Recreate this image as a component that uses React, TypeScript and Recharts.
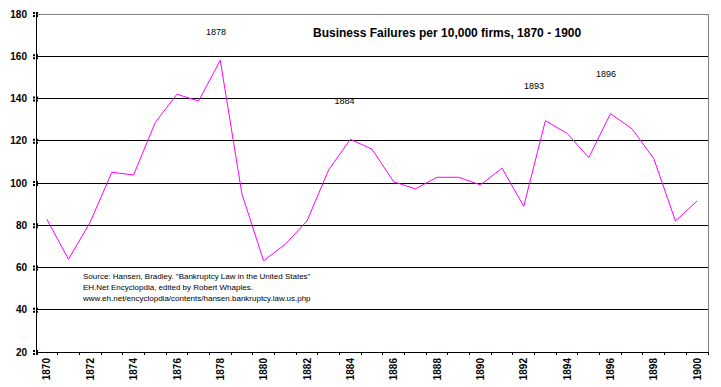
import React from 'react';
import { LineChart, Line, XAxis, YAxis, CartesianGrid, ReferenceLine } from 'recharts';

const years = [
  '1870', '1871', '1872', '1873', '1874', '1875', '1876', '1877', '1878', '1879',
  '1880', '1881', '1882', '1883', '1884', '1885', '1886', '1887', '1888', '1889',
  '1890', '1891', '1892', '1893', '1894', '1895', '1896', '1897', '1898', '1899', '1900',
];
const failures = [
  82.8, 63.9, 81.5, 105.1, 103.8, 128.6, 142.0, 138.8, 158.1, 94.8,
  63.2, 71.0, 82.0, 106.2, 120.7, 116.0, 100.6, 97.2, 102.7, 102.7,
  99.1, 107.0, 89.0, 129.5, 123.5, 112.0, 132.8, 125.6, 111.5, 82.0, 91.5,
];
const yTicks = [20, 40, 60, 80, 100, 120, 140, 160, 180];

const title = 'Business Failures per 10,000 firms, 1870 - 1900';
const annotations = [
  { text: '1878', x: 216, y: 35 },
  { text: '1884', x: 344.5, y: 104 },
  { text: '1893', x: 534, y: 89 },
  { text: '1896', x: 606, y: 76.5 },
];
const sourceLines = [
  'Source: Hansen, Bradley. "Bankruptcy Law in the United States"',
  'EH.Net Encyclopdia, edited by Robert Whaples.',
  'www.eh.net/encyclopdia/contents/hansen.bankruptcy.law.us.php',
];

const data = years.map((year, i) => ({ year, value: failures[i] }));

const FONT = '"Liberation Sans", Arial, sans-serif';

const Marker = ({ x, y }: { x: number; y: number }) => (
  <g fill="#000">
    <rect x={x - 3} y={y - 2} width={2} height={2} />
    <rect x={x} y={y - 2} width={2} height={2} />
    <rect x={x - 3} y={y + 1} width={2} height={2} />
    <rect x={x} y={y + 1} width={2} height={2} />
  </g>
);

const XTick = (props: any) => {
  const { x, y, payload, index } = props;
  const half = payload && payload.offset ? payload.offset : 672 / 31 / 2;
  const show = Number(payload.value) % 2 === 0;
  return (
    <g>
      <line x1={x - half} x2={x - half} y1={y} y2={y + 3} stroke="#000" />
      {index === years.length - 1 && (
        <line x1={x + half} x2={x + half} y1={y} y2={y + 3} stroke="#000" />
      )}
      {show && (
        <text
          transform={`translate(${x + 3.6},${y + 6}) rotate(-90)`}
          textAnchor="end"
          fontFamily={FONT}
          fontWeight="bold"
          fontSize={10}
          fill="#000"
        >
          {payload.value}
        </text>
      )}
    </g>
  );
};

const YTickLeft = (props: any) => {
  const { x, y, payload } = props;
  return (
    <g>
      <Marker x={x} y={y} />
      <text
        x={x - 9}
        y={y + 3.5}
        textAnchor="end"
        fontFamily={FONT}
        fontWeight="bold"
        fontSize={10}
        fill="#000"
      >
        {payload.value}
      </text>
    </g>
  );
};

const YTickRight = (props: any) => {
  const { x, y } = props;
  return <Marker x={x + 1} y={y} />;
};

export default function App() {
  return (
    <div style={{ position: 'absolute', left: 0, top: 0, width: 721, height: 387, background: '#fff' }}>
      <style>{'svg line, svg path.recharts-cartesian-grid-horizontal { shape-rendering: crispEdges; }'}</style>
      <LineChart
        width={721}
        height={387}
        data={data}
        margin={{ top: 14, right: 0, bottom: 0, left: 0 }}
      >
        <CartesianGrid yAxisId="l" vertical={false} stroke="#000" strokeOpacity={1} />
        <XAxis
          dataKey="year"
          scale="band"
          interval={0}
          tickSize={0}
          tickMargin={0}
          tickLine={false}
          axisLine={{ stroke: '#000' }}
          tick={<XTick />}
          height={35}
        />
        <YAxis
          yAxisId="l"
          domain={[20, 180]}
          ticks={yTicks}
          interval={0}
          width={36}
          tickSize={0}
          tickMargin={0}
          tickLine={false}
          axisLine={{ stroke: '#000' }}
          tick={<YTickLeft />}
        />
        <YAxis
          yAxisId="r"
          orientation="right"
          domain={[20, 180]}
          ticks={yTicks}
          interval={0}
          width={13}
          tickSize={0}
          tickMargin={0}
          tickLine={false}
          axisLine={{ stroke: '#808080' }}
          tick={<YTickRight />}
        />
        <ReferenceLine yAxisId="l" y={180} stroke="#808080" ifOverflow="visible" />
        <ReferenceLine yAxisId="l" y={20} stroke="#000" ifOverflow="visible" />
        <Line
          yAxisId="l"
          type="linear"
          dataKey="value"
          stroke="#ff00ff"
          strokeWidth={1}
          dot={false}
          activeDot={false}
          isAnimationActive={false}
        />
      </LineChart>
      <svg
        width={721}
        height={387}
        style={{ position: 'absolute', left: 0, top: 0, pointerEvents: 'none' }}
      >
        <text x={313} y={36.7} fontFamily={FONT} fontWeight="bold" fontSize={12} fill="#000">
          {title}
        </text>
        {annotations.map((a) => (
          <text key={a.text} x={a.x} y={a.y} textAnchor="middle" fontFamily={FONT} fontSize={9} fill="#000">
            {a.text}
          </text>
        ))}
        {sourceLines.map((s, i) => (
          <text key={i} x={83} y={278.5 + i * 11} fontFamily={FONT} fontSize={8} fill="#000">
            {s}
          </text>
        ))}
      </svg>
    </div>
  );
}
